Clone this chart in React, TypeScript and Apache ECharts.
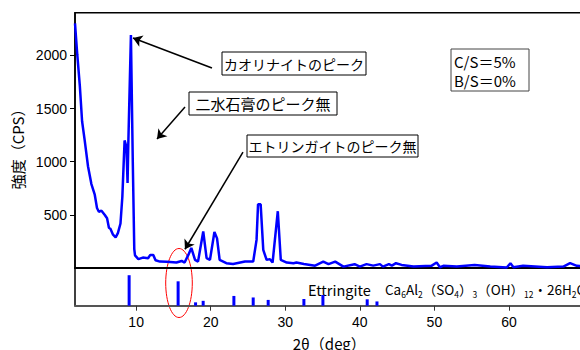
import React, { useEffect, useRef } from "react";
import * as echarts from "echarts";

// XRD pattern: 2θ (deg) vs intensity (CPS)
const XRD_2THETA = [
  1.8, 2.1, 2.45, 2.75, 3.1, 3.55, 4.0, 4.45, 4.75, 5.0, 5.35, 5.8, 6.1, 6.35, 6.55, 6.9,
  7.25, 7.55, 7.9, 8.15, 8.45, 8.7, 8.85, 8.95, 9.3, 9.55, 9.75, 9.85, 10.3, 10.9, 11.6,
  11.9, 12.3, 12.6, 13.2, 14.1, 15.4, 16.1, 16.5, 17.0, 17.4, 17.9, 18.3, 19.0, 19.45,
  19.9, 20.5, 20.85, 21.2, 22.1, 23.0, 24.6, 25.7, 26.15, 26.35, 26.7, 27.05, 27.5,
  27.95, 28.3, 29.0, 29.4, 30.2, 31.1, 31.5, 32.5, 34.0, 35.1, 35.8, 36.7, 37.8, 39.3,
  40.0, 40.9, 41.8, 42.7, 43.1, 43.9, 44.3, 44.85, 45.6, 47.2, 49.6, 50.3, 50.75, 51.2,
  53.0, 55.4, 57.5, 59.7, 60.2, 60.6, 61.9, 65.1, 67.3, 68.2, 69.1, 70.0,
];
const XRD_CPS = [
  2300, 2010, 1710, 1380, 1200, 955, 790, 690, 565, 530, 540, 500, 470, 380, 370, 315,
  290, 330, 420, 670, 1200, 1140, 800, 1170, 2190, 1000, 180, 120, 85, 100, 94,
  125, 125, 75, 62, 60, 53, 68, 53, 125, 190, 78, 62, 345, 94,
  78, 340, 280, 78, 47, 40, 62, 62, 266, 600, 600, 172, 78,
  85, 53, 535, 78, 53, 47, 53, 40, 24, 62, 38, 62, 15, 38,
  15, 38, 24, 38, 15, 38, 24, 47, 31, 15, 22, 53, 9, 22,
  15, 31, 15, 6, 47, 9, 22, 9, 15, 47, 22, 20,
];

// Ettringite reference pattern (relative intensity)
const ETT_2THETA = [9.06, 15.63, 17.97, 18.99, 23.11, 25.7, 27.71, 32.5, 35.05, 40.99, 42.3];
const ETT_INTENSITY = [100, 80, 11, 16, 32, 27, 19, 22, 35, 21, 14];

const X_TICKS = [10, 20, 30, 40, 50, 60];
const Y_TICKS = [500, 1000, 1500, 2000];

// Annotation arrows in data coordinates: [fromX, fromY, toX, toY]
const ARROWS = [
  [20.17, 1880, 9.58, 2162],
  [16.55, 1514, 12.8, 1213],
  [24.33, 1091, 16.55, 178],
];

const JP = "'Noto Sans CJK JP', 'Noto Sans', sans-serif";
const LAT = "'Liberation Sans', Arial, sans-serif";

export default function App() {
  const ref = useRef<HTMLDivElement>(null);

  useEffect(() => {
    if (!ref.current) return;
    const chart = echarts.init(ref.current, undefined, { renderer: "svg" });

    const gridLeft = 75;
    const gridWidth = 508.5;
    const mainTop = 12.7;
    const mainH = 255.5;
    const subTop = mainTop + mainH;
    const subH = 37.5;

    const option: any = {
      animation: false,
      backgroundColor: "#fff",
      grid: [
        {
          left: gridLeft, top: mainTop, width: gridWidth, height: mainH,
          outerBoundsMode: "none", containLabel: false,
          show: true, borderColor: "#000", borderWidth: 1.5, backgroundColor: "transparent",
        },
        {
          left: gridLeft, top: subTop, width: gridWidth, height: subH,
          outerBoundsMode: "none", containLabel: false,
        },
      ],
      xAxis: [
        {
          type: "value", gridIndex: 0, min: 1.8, max: 70,
          axisLine: { show: true, onZero: false, lineStyle: { color: "#000", width: 2 } },
          axisTick: { show: false }, axisLabel: { show: false }, splitLine: { show: false },
        },
        {
          type: "value", gridIndex: 1, min: 1.8, max: 70,
          axisLine: { show: true, onZero: false, lineStyle: { color: "#555", width: 2 } },
          axisTick: { show: true, length: 5, lineStyle: { color: "#333", width: 1 }, customValues: X_TICKS },
          axisLabel: {
            show: true, customValues: X_TICKS, margin: 9, hideOverlap: false,
            color: "#000", fontSize: 14, fontFamily: LAT,
            formatter: (v: number) => String(v),
          },
          splitLine: { show: false },
          name: "2θ（deg）", nameLocation: "middle", nameGap: 30,
          nameTextStyle: { color: "#000", fontSize: 15, fontFamily: JP },
        },
      ],
      yAxis: [
        {
          type: "value", gridIndex: 0, min: 0, max: 2400,
          axisLine: { show: true, lineStyle: { color: "#000", width: 1.5 } },
          axisTick: { show: true, length: 5, lineStyle: { color: "#000" }, customValues: Y_TICKS },
          axisLabel: {
            show: true, customValues: Y_TICKS, margin: 8,
            color: "#000", fontSize: 14, fontFamily: LAT,
            formatter: (v: number) => String(v),
          },
          splitLine: { show: false },
          name: "強度（CPS）", nameLocation: "middle", nameGap: 50, nameRotate: 90,
          nameTextStyle: { color: "#000", fontSize: 15, fontFamily: JP, padding: [0, 10, 0, 0] },
        },
        {
          type: "value", gridIndex: 1, min: 0, max: 123,
          axisLine: { show: true, lineStyle: { color: "#000", width: 1.5 } },
          axisTick: { show: false }, axisLabel: { show: false }, splitLine: { show: false },
        },
      ],
      series: [
        {
          type: "line", xAxisIndex: 0, yAxisIndex: 0,
          data: XRD_2THETA.map((x, i) => [x, XRD_CPS[i]]),
          showSymbol: false, symbol: "none",
          lineStyle: { color: "#0000ff", width: 2.5 },
          itemStyle: { color: "#0000ff" },
          markLine: {
            silent: true,
            symbol: ["none", "arrow"],
            symbolSize: 9,
            label: { show: false },
            lineStyle: { color: "#000", width: 1.5, type: "solid" },
            data: ARROWS.map(([x1, y1, x2, y2]) => [
              { coord: [x1, y1] },
              { coord: [x2, y2] },
            ]),
          },
        },
        {
          type: "bar", xAxisIndex: 1, yAxisIndex: 1,
          data: ETT_2THETA.map((x, i) => [x, ETT_INTENSITY[i]]),
          barWidth: 3,
          itemStyle: { color: "#0000ff" },
        },
      ],
      graphic: [
        { type: "rect", shape: { x: 222, y: 52, width: 144, height: 23 }, style: { fill: "#fff", stroke: "#000", lineWidth: 1 } },
        { type: "text", style: { x: 294, y: 63.5, text: "カオリナイトのピーク", font: `14px ${JP}`, fill: "#000", textAlign: "center", textVerticalAlign: "middle" } },
        { type: "rect", shape: { x: 189, y: 92, width: 148, height: 23 }, style: { fill: "#fff", stroke: "#000", lineWidth: 1 } },
        { type: "text", style: { x: 263, y: 103.5, text: "二水石膏のピーク無", font: `15px ${JP}`, fill: "#000", textAlign: "center", textVerticalAlign: "middle" } },
        { type: "rect", shape: { x: 247, y: 135, width: 171, height: 22 }, style: { fill: "#fff", stroke: "#000", lineWidth: 1 } },
        { type: "text", style: { x: 332.5, y: 146, text: "エトリンガイトのピーク無", font: `14px ${JP}`, fill: "#000", textAlign: "center", textVerticalAlign: "middle" } },
        { type: "rect", shape: { x: 451, y: 49, width: 78, height: 42 }, style: { fill: "#fff", stroke: "#444", lineWidth: 1 } },
        { type: "text", style: { x: 454, y: 61.5, text: "C/S＝5%", font: `15px ${JP}`, fill: "#000", textAlign: "left", textVerticalAlign: "middle" } },
        { type: "text", style: { x: 454, y: 80.5, text: "B/S＝0%", font: `15px ${JP}`, fill: "#000", textAlign: "left", textVerticalAlign: "middle" } },
        { type: "ellipse", shape: { cx: 179, cy: 283, rx: 13.3, ry: 34.5 }, style: { fill: "none", stroke: "#ff0000", lineWidth: 1 } },
        { type: "text", style: { x: 308, y: 289, text: "Ettringite", font: `14.5px ${JP}`, fill: "#000", textAlign: "left", textVerticalAlign: "middle" } },
        {
          type: "text",
          style: {
            x: 385, y: 289,
            text: "{n|Ca}{s|6}{n|Al}{s|2}{n|（SO}{s|4}{n|）}{s|3}{n|（OH）}{s|12}{n|・26H}{s|2}{n|O}",
            font: `13.5px ${JP}`, fill: "#000", textAlign: "left", textVerticalAlign: "middle",
            rich: {
              n: { fontSize: 13.5, fontFamily: JP, fill: "#000", lineHeight: 18, verticalAlign: "middle" },
              s: { fontSize: 8.5, fontFamily: JP, fill: "#000", lineHeight: 18, verticalAlign: "bottom" },
            },
          },
        },
      ],
    };

    chart.setOption(option);
    return () => chart.dispose();
  }, []);

  return (
    <div
      ref={ref}
      style={{ position: "fixed", left: 0, top: 0, width: 580, height: 350, background: "#fff" }}
    />
  );
}
